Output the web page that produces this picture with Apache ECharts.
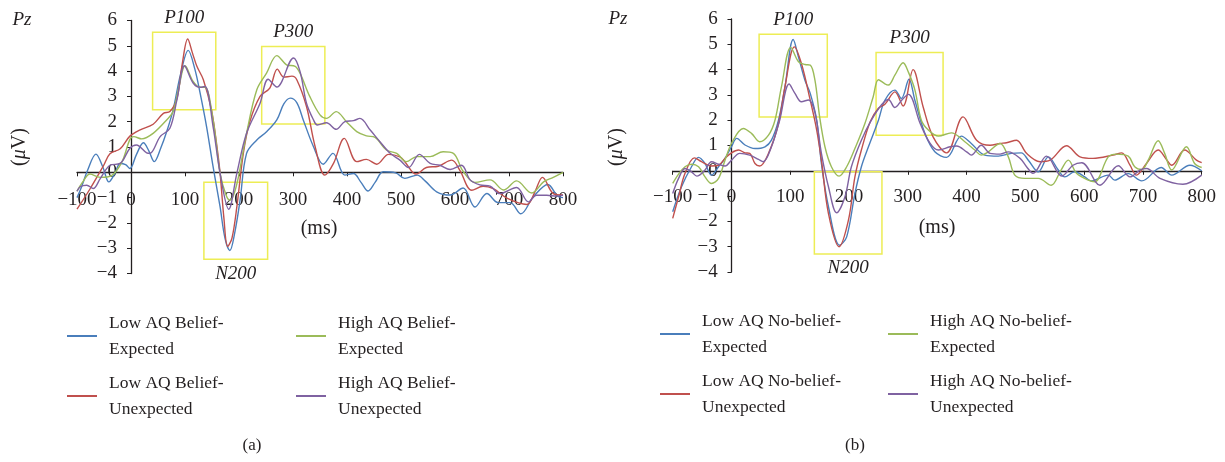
<!DOCTYPE html>
<html>
<head>
<meta charset="utf-8">
<script src="https://cdn.jsdelivr.net/npm/echarts@6/dist/echarts.min.js"></script>
<style>
  html, body { margin: 0; background: #fff; }
  #chart { width: 1225px; height: 462px; }
</style>
</head>
<body>
<div id="chart"></div>
<script>
// Pz waveforms, [ms, uV]
const aLowExp = [[-100,-1.0],[-92,-0.6],[-80,0.1],[-65,0.72],[-52,0.2],[-41,-0.38],[-30,-0.05],[-20,0.35],[-10,0.3],[-2,0.15],[10,0.7],[23,1.17],[33,0.85],[43,0.42],[55,0.95],[66,1.6],[78,2.47],[92,3.9],[106,4.82],[118,4.1],[128,3.13],[140,1.8],[152,0.22],[165,-1.37],[174,-2.6],[183,-3.09],[192,-2.4],[202,-1.1],[214,0.75],[233,1.28],[251,1.6],[270,2.07],[283,2.7],[295,2.93],[307,2.75],[319,2.07],[338,1.01],[356,0.32],[374,0.75],[396,-0.11],[412,-0.05],[426,-0.4],[439,-0.74],[452,-0.4],[467,0.02],[490,-0.02],[507,-0.24],[530,-0.11],[545,-0.35],[566,-0.77],[591,-0.9],[615,-0.62],[637,-1.37],[659,-0.84],[680,-1.2],[702,-1.2],[722,-1.64],[745,-0.97],[772,-0.48],[790,-0.95],[800,-1.0]];
const aLowUnexp = [[-100,-1.46],[-76,-0.66],[-51,0.26],[-39,0.73],[-20,0.93],[-2,1.43],[17,1.68],[41,1.9],[60,2.33],[72,2.4],[85,2.9],[95,4.3],[105,5.27],[114,4.7],[122,4.19],[134,3.66],[149,2.47],[158,1.2],[165,-0.04],[172,-1.8],[179,-2.93],[187,-2.6],[196,-1.37],[208,0.75],[220,2.0],[239,3.0],[257,3.33],[271,4.08],[283,3.76],[298,3.8],[307,3.66],[325,2.6],[341,1.01],[359,-0.11],[375,0.35],[395,1.34],[418,0.42],[436,0.51],[455,0.32],[477,0.71],[498,0.61],[507,0.42],[528,-0.07],[547,0.19],[569,0.24],[594,0.48],[609,0.08],[631,-0.71],[652,-0.55],[671,-0.65],[696,-1.02],[733,-1.27],[748,-0.77],[762,-0.2],[782,-0.84],[800,-0.9]];
const aHighExp = [[-100,-0.75],[-90,-0.4],[-76,-0.07],[-57,-0.2],[-36,-0.13],[-17,0.4],[-2,1.3],[5,1.41],[20,1.32],[41,1.54],[66,2.07],[78,2.4],[90,3.5],[100,4.21],[115,3.59],[128,3.36],[137,3.36],[152,2.07],[165,-0.04],[176,-0.9],[183,-1.1],[190,-0.9],[199,-0.18],[214,1.54],[233,3.26],[251,3.92],[270,4.61],[288,4.25],[304,4.19],[313,3.92],[331,3.0],[350,2.27],[362,2.13],[380,2.4],[399,2.0],[418,1.61],[436,1.44],[452,1.38],[473,0.88],[492,0.75],[510,0.42],[529,0.62],[554,0.62],[578,0.81],[597,0.75],[615,0.04],[637,-0.4],[665,-0.3],[690,-0.7],[714,-0.34],[742,-0.82],[764,-0.38],[782,-0.2],[800,0]];
const aHighUnexp = [[-100,-0.75],[-94,-0.57],[-82,-0.51],[-70,-0.64],[-57,-0.25],[-39,0.28],[-20,0.35],[-2,0.95],[10,1.08],[29,0.77],[35,0.75],[54,1.41],[72,1.74],[85,2.86],[99,4.21],[115,3.53],[128,3.36],[137,3.39],[152,1.81],[165,-0.04],[181,-1.46],[196,-0.04],[214,1.54],[239,2.73],[254,3.68],[270,3.37],[301,4.52],[313,3.99],[325,2.73],[338,2.07],[345,1.87],[362,1.96],[380,1.7],[396,2.0],[412,2.04],[424,2.13],[443,1.67],[461,1.21],[480,0.75],[498,0.48],[514,0.19],[534,0.71],[554,0.35],[572,0.28],[591,0.11],[612,0.28],[628,-0.3],[646,-0.5],[665,-0.55],[683,-0.84],[714,-0.6],[736,-1.17],[751,-0.91],[770,-0.91],[788,-0.94],[800,-0.9]];

const bLowExp = [[-100,-1.62],[-85,-0.63],[-68,0.16],[-56,0.53],[-45,0.29],[-34,-0.17],[-22,0.16],[-11,0.49],[0,0.95],[9,1.28],[23,1.02],[40,0.88],[57,0.95],[68,1.21],[80,2.0],[91,3.32],[105,5.19],[114,4.5],[125,3.58],[134,3.06],[145,2.0],[153,0.29],[165,-1.42],[184,-2.94],[196,-2.61],[210,-0.9],[221,0.16],[233,0.95],[250,2.0],[261,2.79],[278,3.19],[289,2.86],[302,3.62],[312,2.79],[329,1.48],[346,0.75],[366,0.53],[391,1.37],[408,1.08],[431,0.62],[454,0.58],[476,0.69],[493,0.71],[505,0.42],[522,-0.04],[539,0.55],[556,0.03],[567,-0.24],[584,-0.04],[601,-0.24],[612,-0.4],[641,-0.17],[652,-0.37],[675,-0.11],[698,-0.4],[731,0.13],[749,-0.17],[780,0.22],[800,0.0]];
const bLowUnexp = [[-100,-1.88],[-90,-1.03],[-79,-0.1],[-63,0.51],[-51,0.36],[-34,0.19],[-22,0.22],[-11,0.49],[0,0.71],[12,0.82],[23,0.71],[31,0.69],[40,0.29],[48,0.19],[63,0.69],[80,1.87],[91,3.32],[107,4.9],[119,4.24],[134,2.79],[145,1.61],[153,0.42],[165,-1.69],[183,-3.0],[199,-1.95],[210,-0.24],[221,0.82],[236,1.94],[250,2.47],[261,2.63],[278,3.12],[292,2.56],[309,4.0],[326,2.53],[343,1.34],[366,0.71],[394,2.13],[417,1.21],[440,1.01],[457,1.08],[468,1.11],[485,1.21],[502,0.69],[525,0.36],[542,0.42],[570,0.99],[593,0.55],[615,0.49],[649,0.62],[664,0.71],[678,0.22],[689,-0.17],[706,0.29],[726,0.82],[740,0.45],[749,0.22],[771,0.82],[791,0.42],[800,0.32]];
const bHighExp = [[-100,-0.5],[-90,-0.13],[-79,0.16],[-68,0.26],[-56,0.16],[-45,-0.24],[-34,-0.5],[-22,-0.3],[-11,0.42],[0,1.08],[20,1.67],[34,1.48],[48,1.15],[63,1.41],[74,2.0],[85,3.32],[101,4.88],[114,4.31],[125,4.2],[134,4.18],[142,3.58],[150,2.13],[159,0.95],[170,0.16],[183,-0.21],[196,0.16],[210,0.88],[227,1.87],[241,2.92],[250,3.6],[261,3.44],[267,3.39],[278,3.78],[292,4.27],[301,3.9],[312,3.2],[323,2.0],[335,1.61],[352,1.37],[374,1.5],[397,1.15],[414,0.82],[425,0.62],[437,0.75],[457,1.08],[471,0.55],[482,-0.17],[499,-0.3],[522,-0.3],[544,-0.57],[560,0.0],[573,0.42],[587,-0.1],[607,-0.37],[618,-0.43],[641,0.55],[655,0.66],[675,0.58],[686,0.16],[698,0.05],[709,0.42],[726,1.19],[737,0.69],[749,0.03],[774,0.95],[788,0.29],[800,0.13]];
const bHighUnexp = [[-100,-0.9],[-90,-0.3],[-79,0.09],[-68,-0.04],[-59,-0.21],[-45,0.03],[-34,0.36],[-22,0.26],[-11,0.19],[0,0.42],[14,0.69],[31,0.62],[46,0.45],[54,0.36],[68,0.95],[82,2.0],[98,3.43],[108,3.06],[119,2.73],[131,2.8],[142,2.3],[153,0.69],[165,-0.63],[179,-1.66],[193,-1.03],[204,0.16],[221,1.21],[238,2.0],[255,2.6],[267,2.82],[278,2.5],[290,2.8],[301,3.02],[321,1.87],[338,1.08],[352,0.82],[372,0.95],[383,0.98],[400,0.75],[408,0.62],[425,1.01],[440,0.69],[457,0.66],[471,0.75],[491,0.49],[502,0.16],[513,-0.1],[536,0.58],[562,-0.21],[581,0.22],[596,0.32],[627,-0.57],[658,0.2],[678,-0.24],[695,0.03],[706,0.09],[729,-0.3],[768,-0.53],[800,-0.17]];

// component boxes: [name, ms from, ms to, uV top, uV bottom, label side]
const aBoxes = [['P100',40,157,5.54,2.47,'top'],['N200',135,253,-0.39,-3.44,'bottom'],['P300',242,359,4.97,1.91,'top']];
const bBoxes = [['P100',47,163,5.40,2.13,'top'],['N200',141,256,-0.04,-3.29,'bottom'],['P300',246,360,4.68,1.41,'top']];

const names = {
  a: ['Low AQ Belief-Expected','Low AQ Belief-Unexpected','High AQ Belief-Expected','High AQ Belief-Unexpected'],
  b: ['Low AQ No-belief-Expected','Low AQ No-belief-Unexpected','High AQ No-belief-Expected','High AQ No-belief-Unexpected']
};
const colors = ['#4a7ebb','#c0504d','#9bbb59','#7f62a1'];

const FONT = "'Liberation Serif', 'DejaVu Serif', serif";
const INK = '#231f20';
const minus = v => String(v).replace('-', '\u2212');

const chart = echarts.init(document.getElementById('chart'));

function boxes(list) {
  return {
    silent: true,
    itemStyle: {color: 'rgba(0,0,0,0)', borderColor: '#eded55', borderWidth: 1.5},
    data: list.map(b => [
      {name: b[0], xAxis: b[1], yAxis: b[3],
       label: {show: true, position: b[5], distance: 4, color: INK, fontFamily: FONT, fontStyle: 'italic', fontSize: 19}},
      {xAxis: b[2], yAxis: b[4]}
    ])
  };
}

function line(name, data, color, idx, mark) {
  const s = {
    name: name, type: 'line', xAxisIndex: idx, yAxisIndex: idx,
    data: data, smooth: 0.35, symbol: 'none',
    lineStyle: {color: color, width: 1.4}, itemStyle: {color: color}
  };
  if (mark) s.markArea = mark;
  return s;
}

// labels sit by the zero lines, not the grid edges, hence the negative margins
function xAxis(idx, margin) {
  return {
    gridIndex: idx, type: 'value', min: -100, max: 800, interval: 100,
    axisLine: {onZero: true, lineStyle: {color: INK, width: 1.3}},
    axisTick: {length: 4, lineStyle: {color: INK}},
    axisLabel: {margin: margin, color: INK, fontFamily: FONT, fontSize: 19, formatter: minus},
    splitLine: {show: false}
  };
}

function yAxis(idx, margin) {
  return {
    gridIndex: idx, type: 'value', min: -4, max: 6, interval: 1,
    axisLine: {onZero: true, lineStyle: {color: INK, width: 1.3}},
    axisTick: {length: 4, lineStyle: {color: INK}},
    axisLabel: {margin: margin, color: INK, fontFamily: FONT, fontSize: 19, formatter: minus},
    splitLine: {show: false}
  };
}

function legend(data, left, top) {
  return {
    data: data, orient: 'vertical', left: left, top: top, padding: 0,
    itemGap: 8, itemWidth: 30, itemHeight: 2, icon: 'rect',
    selectedMode: false,
    formatter: n => n.replace(/-(?=[^-]*$)/, '-\n'),
    textStyle: {color: INK, fontFamily: FONT, fontSize: 17.5, lineHeight: 26, padding: [0, 0, 0, 7]}
  };
}

const txt = (text, x, y, extra) => ({
  type: 'text', x: x, y: y,
  style: Object.assign({text: text, fill: INK, font: '18px ' + FONT, align: 'center', verticalAlign: 'middle'}, extra || {})
});
const uvStyle = {
  text: '{p|(}{m|\u03bc}{p|V)}',
  rich: {p: {fontFamily: FONT, fontSize: 20, fill: INK}, m: {fontFamily: FONT, fontSize: 20, fontStyle: 'italic', fill: INK}}
};

chart.setOption({
  backgroundColor: '#fff',
  animation: false,
  grid: [
    {left: 77, top: 20.5, width: 486, height: 253, containLabel: false, outerBoundsMode: 'none'},
    {left: 672.7, top: 19, width: 529, height: 253, containLabel: false, outerBoundsMode: 'none'}
  ],
  xAxis: [xAxis(0, -83), xAxis(1, -84)],
  yAxis: [yAxis(0, -40), yAxis(1, -45)],
  legend: [
    legend([names.a[0], names.a[1]], 67, 310),
    legend([names.a[2], names.a[3]], 296, 310),
    legend([names.b[0], names.b[1]], 660, 308),
    legend([names.b[2], names.b[3]], 888, 308)
  ],
  graphic: [
    txt('Pz', 22, 20, {font: 'italic 19px ' + FONT}),
    txt('Pz', 618, 19, {font: 'italic 19px ' + FONT}),
    txt('(ms)', 319, 229, {font: '20px ' + FONT}),
    txt('(ms)', 937, 228, {font: '20px ' + FONT}),
    Object.assign(txt('', 20, 147, uvStyle), {rotation: Math.PI / 2}),
    Object.assign(txt('', 617, 147, uvStyle), {rotation: Math.PI / 2}),
    txt('(a)', 252, 446, {font: '17px ' + FONT}),
    txt('(b)', 855, 446, {font: '17px ' + FONT})
  ],
  series: [
    line(names.a[0], aLowExp, colors[0], 0, boxes(aBoxes)),
    line(names.a[1], aLowUnexp, colors[1], 0),
    line(names.a[2], aHighExp, colors[2], 0),
    line(names.a[3], aHighUnexp, colors[3], 0),
    line(names.b[0], bLowExp, colors[0], 1, boxes(bBoxes)),
    line(names.b[1], bLowUnexp, colors[1], 1),
    line(names.b[2], bHighExp, colors[2], 1),
    line(names.b[3], bHighUnexp, colors[3], 1)
  ]
});
</script>
</body>
</html>
